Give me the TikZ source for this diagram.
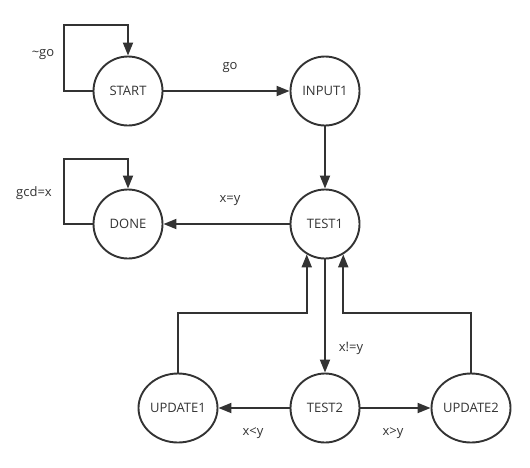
\documentclass[tikz,border=0pt]{standalone}
\usepackage{fontspec}
\setmainfont{Open Sans}
\usetikzlibrary{arrows.meta,shapes.geometric}
\definecolor{ink}{HTML}{333333}
\begin{document}
\begin{tikzpicture}[x = 1pt, y = -1pt, line width = 1.9pt, draw = ink, text = ink,
  state/.style = {draw, circle, minimum size = 69pt, inner sep = 0pt, font = \fontsize{13}{15}\selectfont},
  widestate/.style = {state, ellipse, minimum width = 79pt, minimum height = 69pt},
  arr/.style = {-{Triangle[length = 13pt, width = 10pt]}},
  cond/.style = {font = \fontsize{13}{15}\selectfont}]
\useasboundingbox (0, 0) rectangle (530, 467);

% states
\node [state] (START)  at (128, 91)  {START};
\node [state] (INPUT1) at (325, 91)  {INPUT1};
\node [state] (DONE)   at (128, 224) {DONE};
\node [state] (TEST1)  at (325, 224) {TEST1};
\node [state] (TEST2)  at (325, 408) {TEST2};
\node [widestate] (UPDATE1) at (178, 408) {UPDATE1};
\node [widestate] (UPDATE2) at (471, 408) {UPDATE2};

% transitions
\draw [arr] (START.west) -- ++(-29, 0) -- ++(0, -66) -| (START.north);
\draw [arr] (DONE.west) -- ++(-29, 0) -- ++(0, -65) -| (DONE.north);
\draw [arr] (START) -- (INPUT1);
\draw [arr] (INPUT1) -- (TEST1);
\draw [arr] (TEST1) -- (DONE);
\draw [arr] (TEST1) -- (TEST2);
\draw [arr] (TEST2) -- (UPDATE1);
\draw [arr] (TEST2) -- (UPDATE2);
\draw [arr] (UPDATE1.north) -- ++(0, -60) -| (TEST1.239);
\draw [arr] (UPDATE2.north) -- ++(0, -60) -| (TEST1.301);

% conditions
\node [cond] (notgo) at (43, 55)  {\textasciitilde go};
\node [cond] (go)    at (230, 68) {go};
\node [cond] (gcd)   at (34, 193) {gcd=x};
\node [cond] (eq)    at (230, 201) {x=y};
\node [cond] (neq)   at (351, 348) {x!=y};
\node [cond] (lt)    at (253, 433) {x<y};
\node [cond] (gt)    at (393, 433) {x>y};
\end{tikzpicture}
\end{document}
